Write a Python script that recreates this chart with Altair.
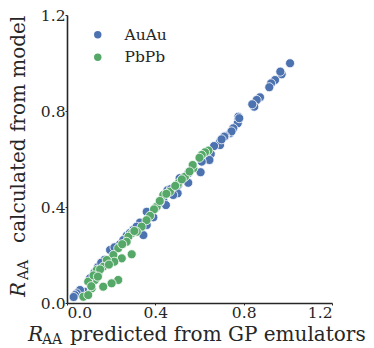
import altair as alt
import pandas as pd

# AuAu (blue) : predicted (x) vs calculated (y)
au_x = [1.010, 0.972, 0.966, 0.942, 0.924, 0.916, 0.874, 0.859, 0.848, 0.839,
        0.776, 0.776, 0.773, 0.753, 0.738, 0.745, 0.716, 0.712, 0.693, 0.693,
        0.666, 0.651, 0.645, 0.610, 0.605, 0.549, 0.549, 0.504, 0.501, 0.481,
        0.436, 0.448, 0.391, 0.361, 0.361, 0.346, 0.330, 0.300, 0.270, 0.240,
        0.195, 0.170, 0.140, 0.104, 0.082, 0.059, 0.044, 0.036, 0.030, 0.510,
        0.455, 0.420, 0.315, 0.285, 0.255, 0.215, 0.155, 0.125, 0.400, 0.470,
        0.700, 0.780]
au_y = [0.999, 0.953, 0.964, 0.929, 0.915, 0.899, 0.857, 0.846, 0.818, 0.828,
        0.776, 0.765, 0.749, 0.728, 0.707, 0.715, 0.696, 0.693, 0.672, 0.658,
        0.654, 0.621, 0.596, 0.589, 0.545, 0.540, 0.501, 0.492, 0.457, 0.450,
        0.429, 0.408, 0.357, 0.380, 0.325, 0.283, 0.335, 0.305, 0.280, 0.245,
        0.221, 0.180, 0.150, 0.103, 0.047, 0.054, 0.040, 0.033, 0.025, 0.520,
        0.470, 0.420, 0.318, 0.292, 0.262, 0.232, 0.168, 0.128, 0.395, 0.475,
        0.682, 0.770]

# PbPb (green)
pb_x = [0.640, 0.625, 0.610, 0.600, 0.572, 0.569, 0.534, 0.504, 0.466, 0.436,
        0.406, 0.394, 0.376, 0.360, 0.338, 0.316, 0.293, 0.278, 0.270, 0.232,
        0.210, 0.293, 0.248, 0.214, 0.180, 0.164, 0.142, 0.135, 0.127, 0.096,
        0.232, 0.202, 0.164, 0.112, 0.074, 0.096, 0.420, 0.450, 0.490, 0.150,
        0.120, 0.250, 0.305, 0.190, 0.140, 0.110, 0.520, 0.555]
pb_y = [0.635, 0.628, 0.617, 0.605, 0.561, 0.575, 0.526, 0.499, 0.464, 0.450,
        0.401, 0.390, 0.363, 0.345, 0.318, 0.297, 0.290, 0.276, 0.255, 0.228,
        0.200, 0.203, 0.186, 0.172, 0.179, 0.151, 0.124, 0.138, 0.096, 0.089,
        0.096, 0.082, 0.068, 0.061, 0.026, 0.033, 0.425, 0.455, 0.488, 0.140,
        0.115, 0.245, 0.300, 0.160, 0.110, 0.070, 0.515, 0.548]

series = ["AuAu", "PbPb"]
colors = ["#4C72B0", "#55A868"]
ticks = [0.0, 0.4, 0.8, 1.2]

df = pd.concat([
    pd.DataFrame({"pred": au_x, "calc": au_y, "system": series[0]}),
    pd.DataFrame({"pred": pb_x, "calc": pb_y, "system": series[1]}),
], ignore_index=True)

FONT = "DejaVu Serif"
TXT = "#262626"

points = alt.Chart(df).mark_circle(
    size=82, opacity=1, stroke="white", strokeWidth=0.8
).encode(
    x=alt.X("pred:Q", scale=alt.Scale(domain=[0, 1.2], nice=False),
            axis=alt.Axis(values=ticks, format=".1f", title=None)),
    y=alt.Y("calc:Q", scale=alt.Scale(domain=[0, 1.2], nice=False),
            axis=alt.Axis(values=ticks, format=".1f", title=None)),
    color=alt.Color("system:N",
                    scale=alt.Scale(domain=series, range=colors),
                    legend=alt.Legend(title=None, orient="none",
                                      legendX=23, legendY=12,
                                      symbolType="circle", symbolSize=55,
                                      symbolStrokeWidth=0,
                                      labelFont=FONT, labelFontSize=15.5,
                                      labelColor=TXT, labelOffset=19,
                                      rowPadding=5.5, padding=0)),
)

one = pd.DataFrame({"k": [0]})

def txt(s, x, y, size=20, italic=False, angle=0):
    kw = dict(font=FONT, fontSize=size, color=TXT, align="left",
              baseline="alphabetic", angle=angle)
    if italic:
        kw["fontStyle"] = "italic"
    return alt.Chart(one).mark_text(**kw).encode(
        x=alt.value(x), y=alt.value(y), text=alt.value(s))

titles = [
    # x-axis title
    txt("R", -39, 326, italic=True),
    txt("AA", -25, 329, size=14),
    txt("predicted from GP emulators", 3, 326),
    # y-axis title (rotated)
    txt("R", -42, 282, italic=True, angle=270),
    txt("AA", -39, 265, size=14, angle=270),
    txt("calculated from model", -42, 228, angle=270),
]

chart = alt.layer(points, *titles).properties(
    width=265, height=288,
    autosize=alt.AutoSizeParams(type="none"),
    padding={"left": 67, "top": 15, "right": 42, "bottom": 45},
).configure_view(stroke=None).configure_axis(
    grid=False, domainColor=TXT, domainWidth=1.6,
    tickColor=TXT, tickSize=2, tickWidth=1,
    labelFont=FONT, labelFontSize=15.5, labelColor=TXT, labelPadding=0,
)

chart.save("out.html", embed_options={"renderer": "svg", "actions": False})
